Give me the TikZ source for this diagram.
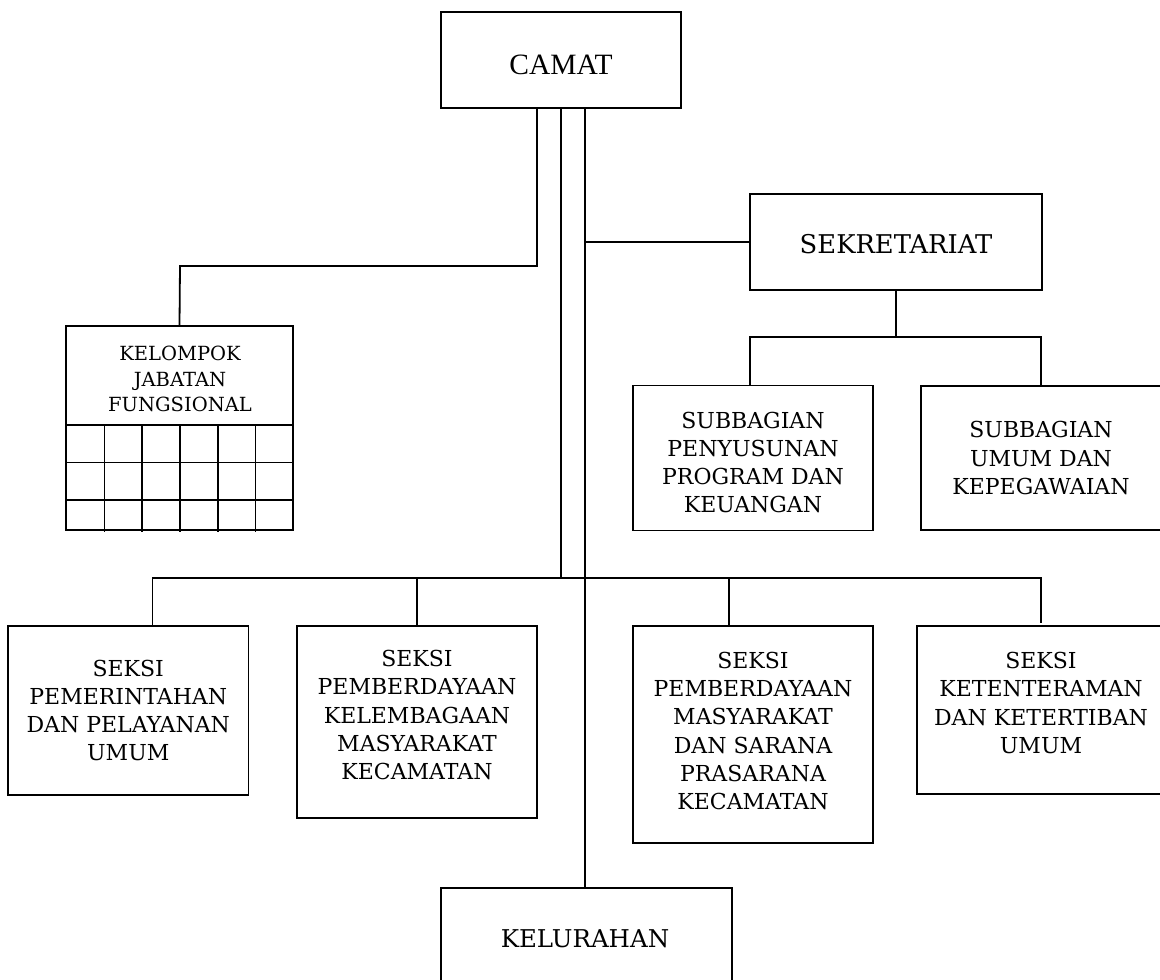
\documentclass[tikz,border=0pt]{standalone}
\usepackage{fontspec}
\setmainfont{DejaVu Serif}
\newfontfamily\timesf{Liberation Serif}
\begin{document}
\begin{tikzpicture}[x=1pt,y=-1pt,
  box/.style={draw, rectangle, inner sep=0pt, line width=1.8pt},
  txt/.style={align=center, inner sep=0pt},
  link/.style={line width=1.8pt, line cap=rect},
  gridline/.style={line width=1.8pt},
  fsmall/.style={font=\fontsize{19.5}{25.5}\selectfont},
  fmid/.style={font=\fontsize{22}{28.2}\selectfont},
  fbig/.style={font=\fontsize{25.8}{30}\selectfont}]
\useasboundingbox (0,0) rectangle (1160,980);
\clip (0,0) rectangle (1160,980);

% boxes
\node[box, minimum width=240pt, minimum height=96pt] (camat) at (561,60) {};
\node[box, minimum width=292pt, minimum height=96pt] (sek) at (896,242) {};
\node[box, minimum width=240pt, minimum height=145pt] (sub1) at (753,458) {};
\node[box, minimum width=240pt, minimum height=144pt] (sub2) at (1041,458) {};
\node[box, minimum width=227pt, minimum height=204pt] (kjf) at (179.5,428) {};
\node[box, minimum width=240.5pt, minimum height=169pt] (s1) at (128.25,710.5) {};
\node[box, minimum width=240pt, minimum height=192pt] (s2) at (417,722) {};
\node[box, minimum width=240pt, minimum height=217pt] (s3) at (753,734.5) {};
\node[box, minimum width=244pt, minimum height=168pt] (s4) at (1039,710) {};
\node[box, minimum width=291pt, minimum height=102pt] (kel) at (586.5,939) {};

% grid of the functional group box
\draw[gridline] (kjf.west |- 0,425) -- (kjf.east |- 0,425);
\draw[gridline] (kjf.west |- 0,462.5) -- (kjf.east |- 0,462.5);
\draw[gridline] (kjf.west |- 0,500) -- (kjf.east |- 0,500);
\foreach \gx in {104.5,142.3,180,218,255.5}
  \draw[gridline] (\gx,425) -- (\gx,532);

% texts
\node[txt, font=\timesf\fontsize{29.5}{34}\selectfont] (camatT) at (561,65) {CAMAT};
\node[txt, fbig] (sekT) at (896,244) {SEKRETARIAT};
\node[txt, fsmall] (kjfT) at (180,379) {KELOMPOK\\JABATAN\\FUNGSIONAL};
\node[txt, fmid] (sub1T) at (753,462.3) {SUBBAGIAN\\PENYUSUNAN\\PROGRAM DAN\\KEUANGAN};
\node[txt, fmid] (sub2T) at (1041,458) {SUBBAGIAN\\UMUM DAN\\KEPEGAWAIAN};
\node[txt, fmid] (s1T) at (128.25,710.3) {SEKSI\\PEMERINTAHAN\\DAN PELAYANAN\\UMUM};
\node[txt, fmid] (s2T) at (417,715) {SEKSI\\PEMBERDAYAAN\\KELEMBAGAAN\\MASYARAKAT\\KECAMATAN};
\node[txt, fmid] (s3T) at (753,731) {SEKSI\\PEMBERDAYAAN\\MASYARAKAT\\DAN SARANA\\PRASARANA\\KECAMATAN};
\node[txt, fmid] (s4T) at (1041,703) {SEKSI\\KETENTERAMAN\\DAN KETERTIBAN\\UMUM};
\node[txt, font=\fontsize{24.5}{30}\selectfont] (kelT) at (585,939) {KELURAHAN};

% junction coordinates
\coordinate (jk) at (180,266);
\coordinate (jbus) at (561,578);
\coordinate (jsek) at (585,242);
\coordinate (jsub) at (896,337);

% connectors from CAMAT
\draw[link] ([xshift=-24pt]camat.south) |- (jk) -- (kjf.north);
\draw[link] (camat.south) -- (jbus);
\draw[link] ([xshift=24pt]camat.south) -- (kel.north -| jsek);
\draw[link] (jsek) -- (sek.west);

% bottom bus
\draw[link] (152.4,578) -- (1041,578);
\draw[link] (152.4,578) -- (s1.north -| 152.4,0);
\draw[link] (417,578) -- (s2.north);
\draw[link] (729,578) -- (s3.north -| 729,0);
\draw[link] (1041,578) -- (1041,622);

% secretariat branch
\draw[link] (sek.south) -- (jsub);
\draw[link] (sub1.north -| 750,0) |- (jsub) -| (sub2.north);
\end{tikzpicture}
\end{document}
